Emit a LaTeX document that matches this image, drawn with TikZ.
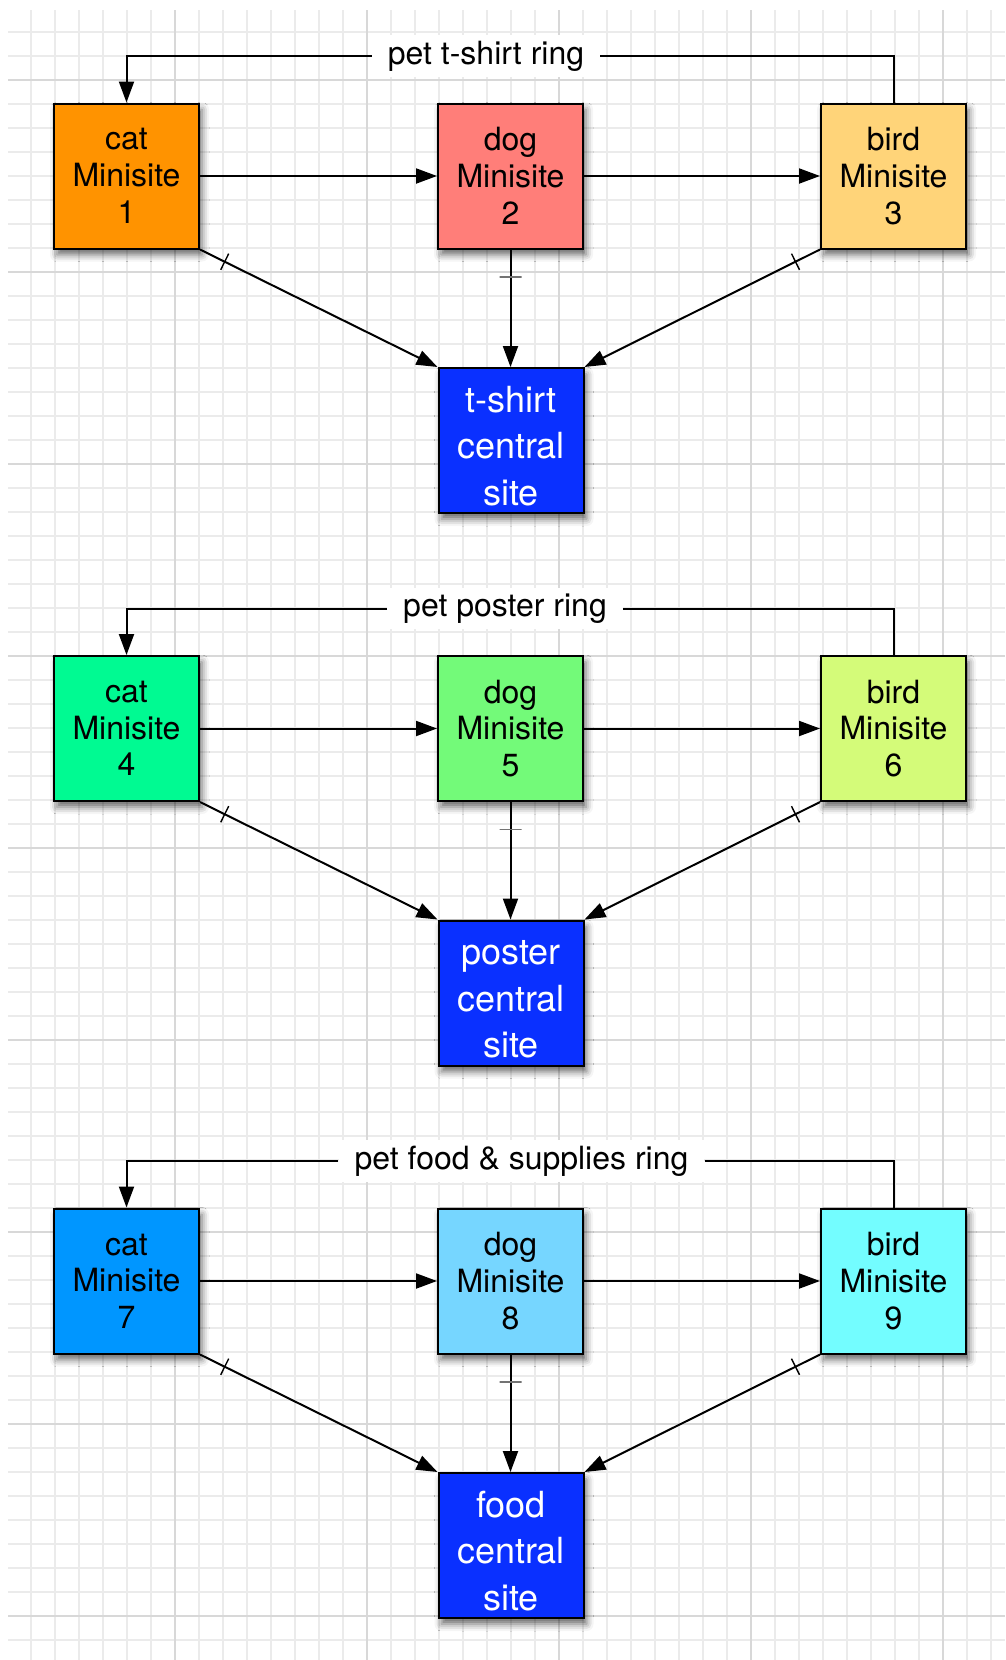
\documentclass[tikz,border=0pt]{standalone}
\usepackage{fontspec}
\setmainfont{TeX Gyre Heros}
\usetikzlibrary{arrows.meta,shadows.blur}
\definecolor{tangerine}{HTML}{FF9300}
\definecolor{salmonc}{HTML}{FF7E79}
\definecolor{cantaloupe}{HTML}{FFD479}
\definecolor{seafoam}{HTML}{00FA92}
\definecolor{flora}{HTML}{73FA79}
\definecolor{honeydew}{HTML}{D4FB79}
\definecolor{aquac}{HTML}{0096FF}
\definecolor{skyc}{HTML}{76D6FF}
\definecolor{icec}{HTML}{73FDFF}
\definecolor{blueberry}{HTML}{0A30FF}
\definecolor{gridminorc}{HTML}{EBEBEB}
\definecolor{gridmajorc}{HTML}{D8D8D8}
\newcommand{\toppad}{\rule{0pt}{37pt}}
\begin{document}
\begin{tikzpicture}[x=1pt,y=-1pt,
  gridminor/.style={draw=gridminorc, line width=1.6pt},
  gridmajor/.style={draw=gridmajorc, line width=2pt},
  sitebox/.style={draw=black, line width=2pt, minimum width=145pt, minimum height=145pt,
    inner sep=0pt, align=center, font=\fontsize{32}{36.7}\selectfont, text=black,
    blur shadow={shadow xshift=3pt, shadow yshift=-6pt, shadow blur radius=7pt, shadow opacity=60}},
  centralbox/.style={sitebox, fill=blueberry, text=white, font=\fontsize{36}{46.5}\selectfont},
  ringlabel/.style={fill=white, inner xsep=16pt, inner ysep=6pt, font=\fontsize{32}{36}\selectfont, text=black},
  conn/.style={draw=black, line width=2pt, -{Triangle[length=21pt,width=15pt]}},
  ringline/.style={draw=black, line width=2pt},
  tickmark/.style={sloped, draw=black, line width=1.4pt, minimum width=0pt, minimum height=18pt, inner sep=0pt, shape=rectangle}
]
\useasboundingbox (0,0) rectangle (1005,1660);
% grid
\foreach \k in {1,...,41} {
  \draw[gridminor] ({7+24*\k},10) -- ({7+24*\k},1660);
}
\foreach \k in {1,...,68} {
  \draw[gridminor] (8,{8+24*\k}) -- (1005,{8+24*\k});
}
\foreach \k in {0,...,4} {
  \draw[gridmajor] ({175+192*\k},10) -- ({175+192*\k},1660);
}
\foreach \k in {0,...,8} {
  \draw[gridmajor] (8,{80+192*\k}) -- (1005,{80+192*\k});
}

% row 1
\node[sitebox, fill=tangerine] (c1) at (126.5,176) {cat\\Minisite\\1};
\node[sitebox, fill=salmonc] (d1) at (510.5,176) {dog\\Minisite\\2};
\node[sitebox, fill=cantaloupe] (b1) at (893.5,176) {bird\\Minisite\\3};
\node[centralbox] (m1) at (511,440.5) {\toppad t-shirt\\central\\site};
\node[ringlabel] (l1) at (486,56) {pet t-shirt ring};

% row 2
\node[sitebox, fill=seafoam] (c2) at (126.5,728.5) {cat\\Minisite\\4};
\node[sitebox, fill=flora] (d2) at (510.5,728.5) {dog\\Minisite\\5};
\node[sitebox, fill=honeydew] (b2) at (893.5,728.5) {bird\\Minisite\\6};
\node[centralbox] (m2) at (511,993) {\toppad poster\\central\\site};
\node[ringlabel] (l2) at (505,608.5) {pet poster ring};

% row 3
\node[sitebox, fill=aquac] (c3) at (126.5,1281) {cat\\Minisite\\7};
\node[sitebox, fill=skyc] (d3) at (510.5,1281) {dog\\Minisite\\8};
\node[sitebox, fill=icec] (b3) at (893.5,1281) {bird\\Minisite\\9};
\node[centralbox] (m3) at (511,1545.5) {\toppad food\\central\\site};
\node[ringlabel] (l3) at (521.5,1161) {pet food \& supplies ring};

% connectors
\foreach \r in {1,2,3} {
  \draw[conn] (l\r.west) -| (c\r.north);
  \draw[ringline] (l\r.east) -| (b\r.north);
  \draw[conn] (c\r.east) -- (d\r.west);
  \draw[conn] (d\r.east) -- (b\r.west);
  \draw[conn] (c\r.south east) -- node[tickmark, pos=0.104] {} (m\r.north west);
  \draw[conn] (d\r.south) -- node[tickmark, pos=0.233, draw=black!55, minimum height=22pt] {} (d\r.south |- m\r.north);
  \draw[conn] (b\r.south west) -- node[tickmark, pos=0.104] {} (m\r.north east);
}
\end{tikzpicture}
\end{document}
